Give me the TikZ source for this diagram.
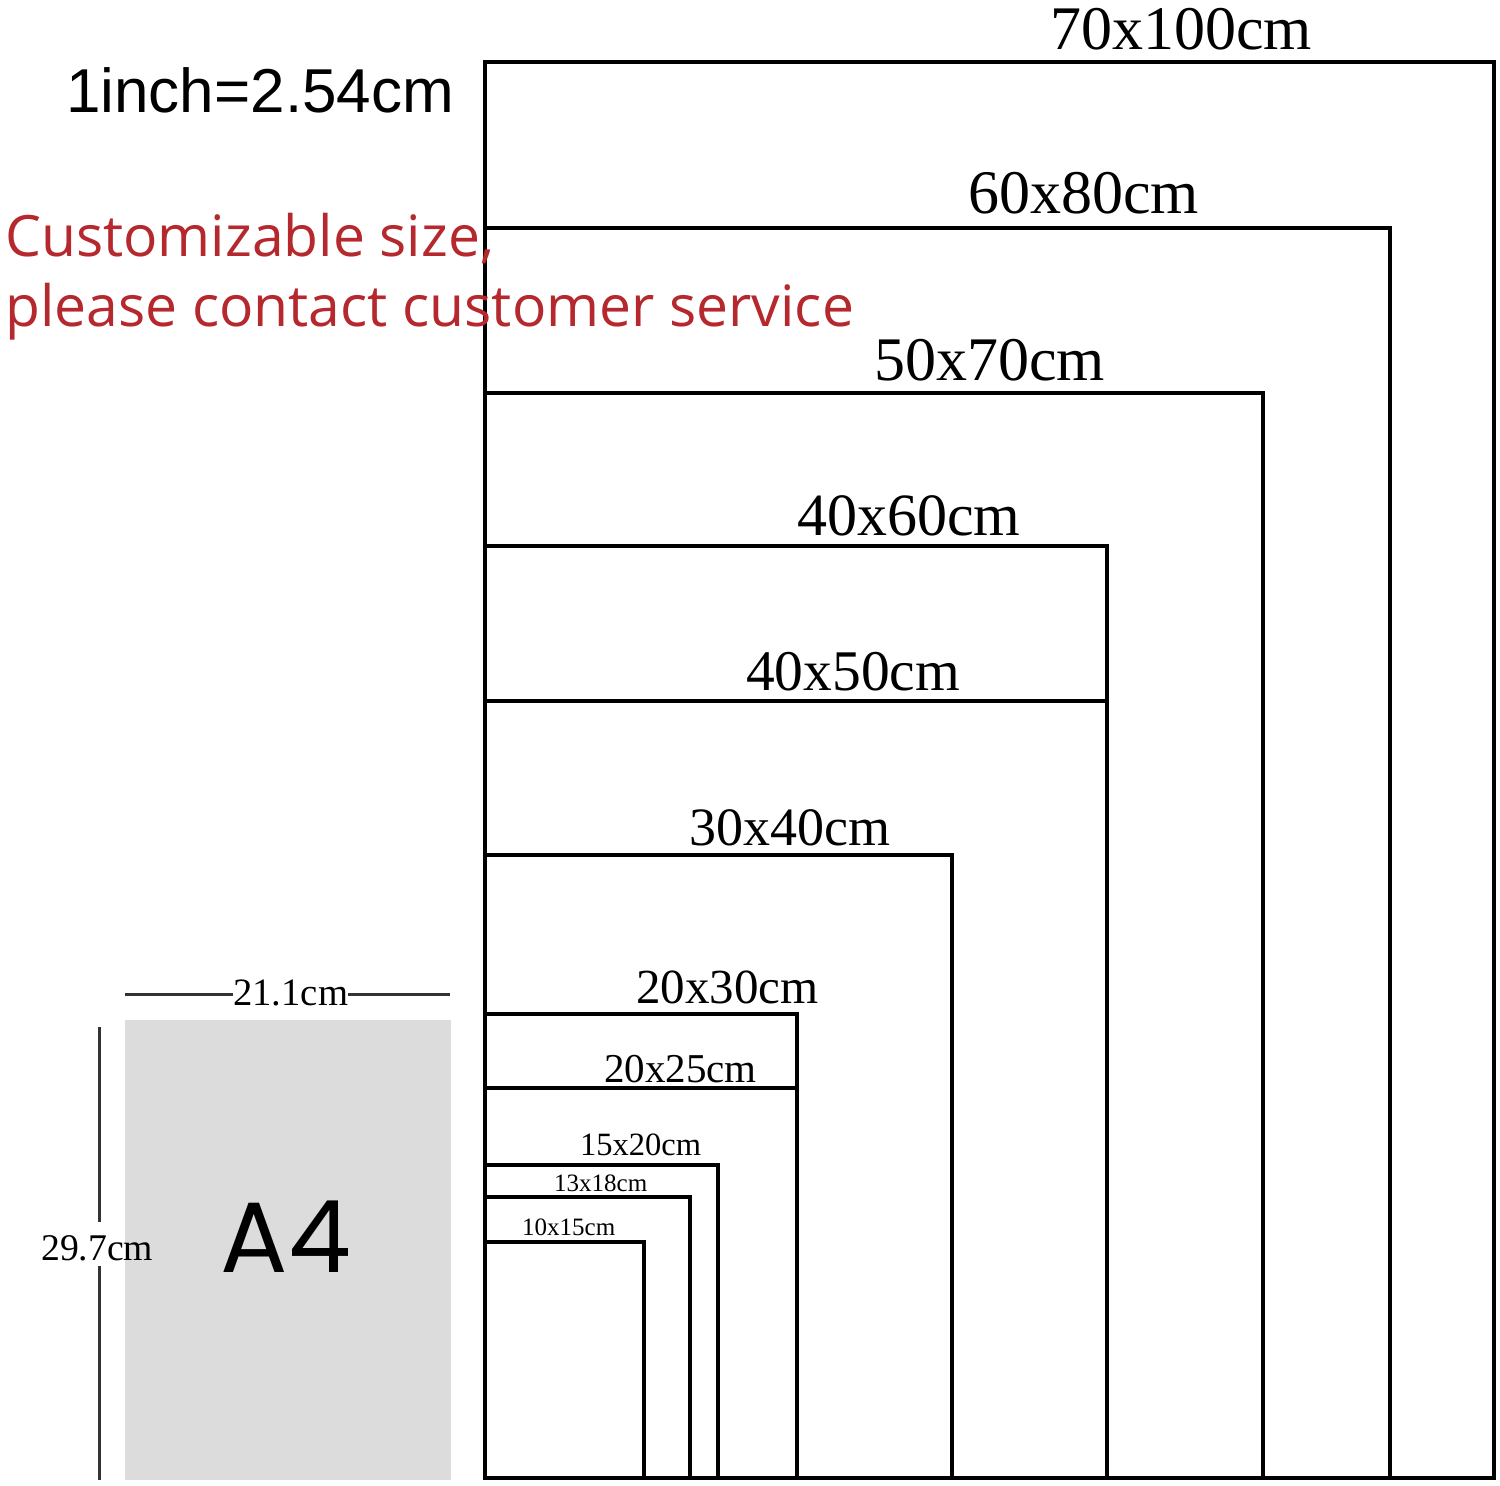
\documentclass[tikz,border=0pt]{standalone}
\usepackage{fontspec}
\setmainfont{Liberation Serif}
\newfontfamily\arialfont{Liberation Sans}
\newfontfamily\redfont{Open Sans}
\newfontfamily\afourfont{Poppins}
\definecolor{redtxt}{HTML}{B5282E}
\definecolor{a4grey}{HTML}{DCDCDC}
\definecolor{dimgrey}{HTML}{333333}
\tikzset{
  frame/.style={draw=black, line width=3.4pt, line join=miter},
  lbl/.style={anchor=base west, inner sep=0pt, text=black},
  dimline/.style={draw=dimgrey, line width=3pt}
}
\newcommand{\fs}[1]{\fontsize{#1}{#1}\selectfont}
\begin{document}
\begin{tikzpicture}[x=1pt,y=-1pt]
\useasboundingbox (0,0) rectangle (1500,1486);
\fill[white] (0,0) rectangle (1500,1486);
% frames
\draw[frame] (485,1478) -- (485,62) -- (1494,62) -- (1494,1478) -- cycle;
\draw[frame] (485,228) -- (1390,228) -- (1390,1478);
\draw[frame] (485,393) -- (1263,393) -- (1263,1478);
\draw[frame] (485,546) -- (1107,546) -- (1107,1478);
\draw[frame] (485,701) -- (1107,701);
\draw[frame] (485,855) -- (952,855) -- (952,1478);
\draw[frame] (485,1014) -- (797,1014) -- (797,1478);
\draw[frame] (485,1088) -- (797,1088);
\draw[frame] (485,1165) -- (718,1165) -- (718,1478);
\draw[frame] (485,1197) -- (690,1197) -- (690,1478);
\draw[frame] (485,1242) -- (644,1242) -- (644,1478);
% labels
\node[lbl, font=\fs{62}] (l70) at (1050,49) {70x100cm};
\node[lbl, font=\fs{62}] (l60) at (968,213) {60x80cm};
\node[lbl, font=\fs{62}] (l50) at (874,380) {50x70cm};
\node[lbl, font=\fs{60}] (l4060) at (797,535) {40x60cm};
\node[lbl, font=\fs{57.5}] (l4050) at (746,690) {40x50cm};
\node[lbl, font=\fs{54}] (l30) at (689,845) {30x40cm};
\node[lbl, font=\fs{49}] (l2030) at (636,1003) {20x30cm};
\node[lbl, font=\fs{41}] (l2025) at (604,1082) {20x25cm};
\node[lbl, font=\fs{32.5}] (l15) at (580,1155) {15x20cm};
\node[lbl, font=\fs{25}] (l13) at (554,1191) {13x18cm};
\node[lbl, font=\fs{25}] (l10) at (522,1235) {10x15cm};
% header texts
\node[lbl, font=\arialfont\fs{62}] (inch) at (66,112) {1inch=2.54cm};
\node[lbl, font=\redfont\fs{57}, text=redtxt] (cust1) at (5,256) {Customizable size,};
\node[lbl, font=\redfont\fs{57}, text=redtxt] (cust2) at (5,326) {please contact customer service};
% A4 sheet
\fill[a4grey] (125,1020) rectangle (451,1480);
\node[anchor=base, inner sep=0pt, font=\afourfont\fs{100}] (a4) at (286,1272) {A4};
\node[lbl, font=\fs{38.7}] (w) at (233,1005) {21.1cm};
\coordinate (wl) at (125,994);
\coordinate (wr) at (450,994);
\draw[dimline] (wl) -- (w.west |- wl);
\draw[dimline] (w.east |- wr) -- (wr);
\node[lbl, font=\fs{37.7}] (h) at (41,1260) {29.7cm};
\coordinate (ht) at (99,1027);
\coordinate (hb) at (99,1480);
\draw[dimline] (ht) -- (99,1222);
\draw[dimline] (99,1266) -- (hb);
\end{tikzpicture}
\end{document}
